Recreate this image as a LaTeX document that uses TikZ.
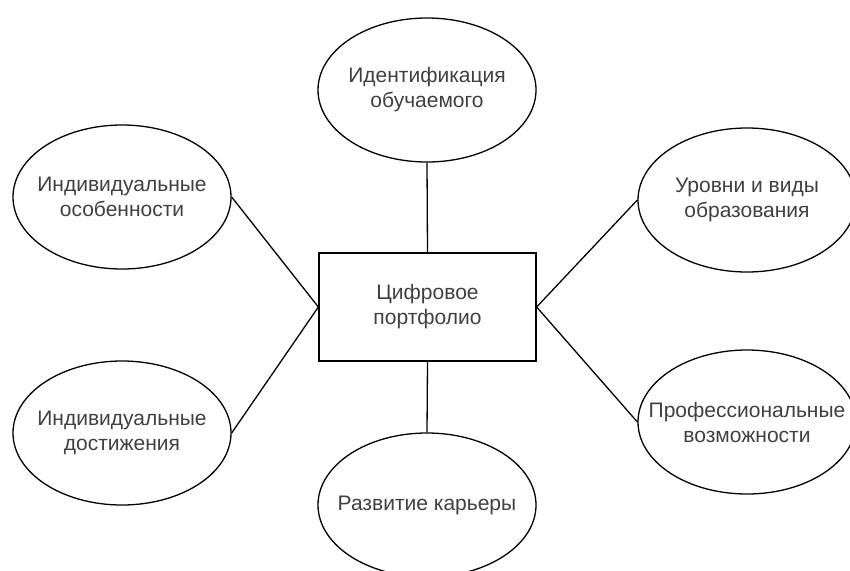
\documentclass[tikz,border=0pt]{standalone}
\usepackage{fontspec}
\setmainfont{Liberation Sans}
\usetikzlibrary{shapes.geometric}
\begin{document}
\begin{tikzpicture}[x=1pt,y=-1pt,
  labeltext/.style={text=black!75, align=center, font=\fontsize{21}{25}\selectfont},
  topic/.style={draw, ellipse, line width=1.3pt, minimum width=218pt, minimum height=144pt,
    inner sep=0pt, label={[labeltext]center:#1}},
  hub/.style={draw, rectangle, line width=1.3pt, minimum width=217pt, minimum height=108pt,
    inner sep=0pt, labeltext},
  link/.style={line width=1.3pt}]
  \useasboundingbox (0,0) rectangle (850,570);
  \clip (0,0) rectangle (850,570);
  \fill[white] (0,0) rectangle (850,570);

  \node[hub] (hub) at (427.5,307) {Цифровое\\портфолио};

  \node[topic={Идентификация\\обучаемого}] (ident) at (427,90) {};
  \node[topic={Индивидуальные\\особенности}] (feat) at (122,197) {};
  \node[topic={Индивидуальные\\достижения}] (ach) at (122,433) {};
  \node[topic={Развитие карьеры}] (career) at (427,505) {};
  \node[topic={Уровни и виды\\образования}] (levels) at (747,200) {};
  \node[topic={Профессиональные\\возможности}] (prof) at (747,422) {};

  \draw[link] (ident.south) -- (hub.north);
  \draw[link] (hub.south) -- (career.north);
  \draw[link] (feat.east) -- (hub.west);
  \draw[link] (ach.east) -- (hub.west);
  \draw[link] (levels.west) -- (hub.east);
  \draw[link] (prof.west) -- (hub.east);
\end{tikzpicture}
\end{document}
